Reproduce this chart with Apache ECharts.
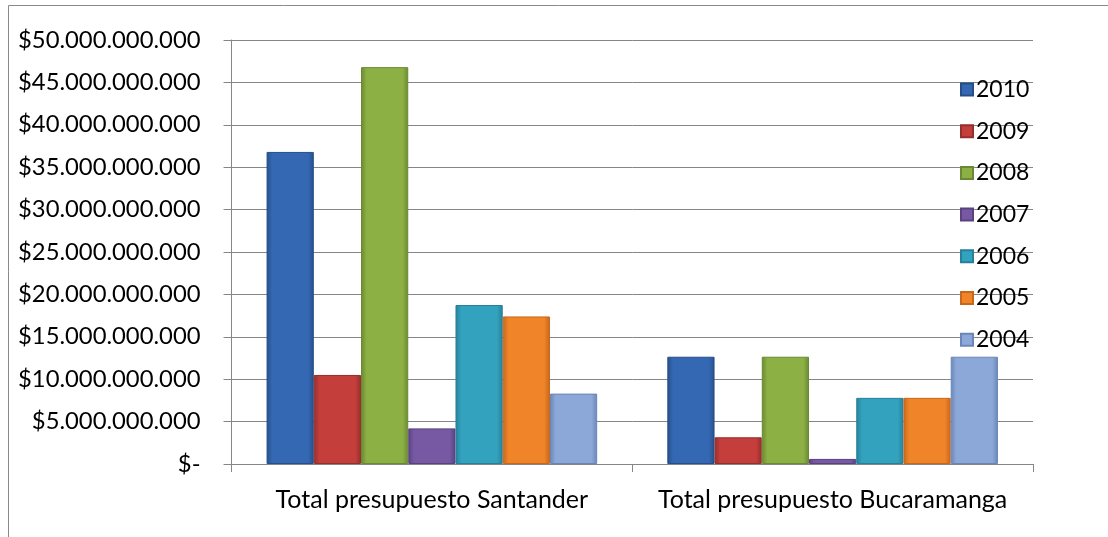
<!DOCTYPE html>
<html>
<head>
<meta charset="utf-8">
<script src="https://cdn.jsdelivr.net/npm/echarts@6/dist/echarts.min.js"></script>
<style>
html,body{margin:0;padding:0;background:#fff;}
#chart{width:1108px;height:537px;}
</style>
</head>
<body>
<div id="chart"></div>
<script>
const categories = ['Total presupuesto Santander', 'Total presupuesto Bucaramanga'];
const seriesNames = ['2010', '2009', '2008', '2007', '2006', '2005', '2004'];
const v2010 = [36800000000, 12650000000];
const v2009 = [10500000000, 3150000000];
const v2008 = [46800000000, 12650000000];
const v2007 = [4200000000, 600000000];
const v2006 = [18750000000, 7800000000];
const v2005 = [17400000000, 7800000000];
const v2004 = [8300000000, 12650000000];
const yTicks = [0, 50000000000, 5000000000]; // min, max, interval

const values = [v2010, v2009, v2008, v2007, v2006, v2005, v2004];
const colors = [
  ['#254F8A', '#3568B2'],
  ['#962E2C', '#C43E3C'],
  ['#6A8934', '#8CB043'],
  ['#5A4280', '#7758A3'],
  ['#26809A', '#33A2BE'],
  ['#C8661C', '#EF8428'],
  ['#6A86B8', '#8CA8D8']
];

function fmt(v) {
  if (v === 0) return '$-';
  return '$' + String(v).replace(/\B(?=(\d{3})+(?!\d))/g, '.');
}

const FONT = 'Lato';
const chart = echarts.init(document.getElementById('chart'));
chart.setOption({
  animation: false,
  textStyle: { fontFamily: FONT },
  graphic: [{
    type: 'rect', silent: true, z: -1,
    shape: { x: 8.5, y: 5.5, width: 1300, height: 700 },
    style: { fill: 'none', stroke: '#8a8a8a', lineWidth: 1 }
  }],
  grid: { left: 231.5, right: 75, top: 40, bottom: 73 },
  legend: {
    orient: 'vertical',
    left: 955, top: 73,
    itemWidth: 12, itemHeight: 12, itemGap: 18.7,
    icon: 'rect',
    textStyle: { fontFamily: FONT, fontSize: 23, color: '#000', padding: [0,0,0,-2] },
    data: seriesNames
  },
  xAxis: {
    type: 'category',
    data: categories,
    axisLine: { lineStyle: { color: '#868686' } },
    axisTick: { show: true, length: 8, lineStyle: { color: '#868686' } },
    axisLabel: { fontFamily: FONT, fontSize: 25, color: '#000', margin: 23, interval: 0, hideOverlap: false }
  },
  yAxis: {
    type: 'value',
    min: yTicks[0], max: yTicks[1], interval: yTicks[2],
    axisLine: { show: true, lineStyle: { color: '#868686' } },
    axisTick: { show: true, length: 8, lineStyle: { color: '#868686' } },
    splitLine: { lineStyle: { color: '#868686', width: 1 } },
    axisLabel: { fontFamily: FONT, fontSize: 23.8, color: '#000', margin: 31, formatter: fmt }
  },
  series: seriesNames.map((n, i) => ({
    name: n,
    type: 'bar',
    data: values[i],
    barGap: '0%',
    barCategoryGap: '17.5%',
    itemStyle: {
      color: new echarts.graphic.LinearGradient(0, 0, 1, 0, [
        { offset: 0, color: colors[i][0] },
        { offset: 0.12, color: colors[i][1] },
        { offset: 0.88, color: colors[i][1] },
        { offset: 1, color: colors[i][0] }
      ]),
      borderColor: colors[i][0],
      borderWidth: 1
    }
  }))
});
</script>
</body>
</html>
